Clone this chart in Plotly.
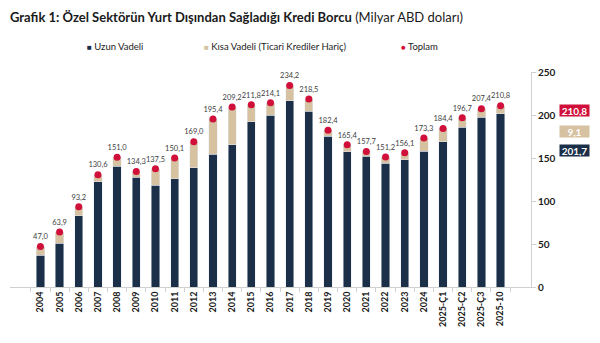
import plotly.graph_objects as go

# Kategoriler ve seriler (milyar ABD doları)
periods = ["2004", "2005", "2006", "2007", "2008", "2009", "2010", "2011", "2012",
           "2013", "2014", "2015", "2016", "2017", "2018", "2019", "2020", "2021",
           "2022", "2023", "2024", "2025-Ç1", "2025-Ç2", "2025-Ç3", "2025-10"]
total = [47.0, 63.9, 93.2, 130.6, 151.0, 134.3, 137.5, 150.1, 169.0, 195.4, 209.2,
         211.8, 214.1, 234.2, 218.5, 182.4, 165.4, 157.7, 151.2, 156.1, 173.3, 184.4,
         196.7, 207.4, 210.8]
long_term = [36.7, 51.1, 82.9, 122.4, 140.7, 127.9, 118.6, 125.9, 138.7, 154.6, 165.5,
             191.9, 200.0, 216.3, 204.2, 175.1, 157.3, 152.3, 143.7, 147.7, 158.1, 169.0,
             186.0, 197.2, 201.7]
short_term = [round(t - l, 1) for t, l in zip(total, long_term)]
y_ticks = [0, 50, 100, 150, 200, 250]
series_names = ["Uzun Vadeli", "Kısa Vadeli (Ticari Krediler Hariç)", "Toplam"]

NAVY = "#1b2f48"
TAN = "#d6c1a1"
RED = "#d0103a"
FONT = "Lato"

# Çizim alanı (piksel)
PL, PR, PT, PB = 10, 531.5, 72.3, 287.3
W, H = 600, 343


def tr(v):
    return f"{v:.1f}".replace(".", ",")


fig = go.Figure()
fig.add_trace(go.Bar(x=periods, y=long_term, name=series_names[0], marker_color=NAVY))
fig.add_trace(go.Bar(x=periods, y=short_term, name=series_names[1], marker_color=TAN))
fig.add_trace(go.Scatter(x=periods, y=total, name=series_names[2], mode="markers+text",
                         marker=dict(color=RED, size=7),
                         text=[tr(v) for v in total], textposition="top center",
                         textfont=dict(size=7.5, color="#404040", family=FONT),
                         cliponaxis=False))

# Son dönem değer kutuları
for val, bg, yc in [(total[-1], RED, 111), (short_term[-1], TAN, 131.5),
                    (long_term[-1], NAVY, 150.6)]:
    fig.add_annotation(xref="paper", yref="paper",
                       x=(575 - PL) / (PR - PL), y=(PB - yc) / (PB - PT),
                       xanchor="center", yanchor="middle",
                       text=f"<b>{tr(val)}</b>", showarrow=False,
                       font=dict(color="white", size=10, family=FONT),
                       bgcolor=bg, width=29, height=11, borderpad=0)

# Gösterge
for name, sym, col, xs in [(series_names[0], "■", NAVY, 85),
                           (series_names[1], "■", TAN, 202),
                           (series_names[2], "●", RED, 399)]:
    fig.add_annotation(xref="paper", yref="paper",
                       x=(xs - PL) / (PR - PL), y=(PB - 47) / (PB - PT),
                       xanchor="left", yanchor="middle", showarrow=False,
                       text=f"<span style='color:{col};font-size:8px'>{sym}</span> {name}",
                       font=dict(size=9.5, family=FONT, color="#222"))

fig.update_layout(
    barmode="stack",
    bargap=0.57,
    showlegend=False,
    width=W, height=H,
    margin=dict(l=PL, r=W - PR, t=PT, b=H - PB),
    plot_bgcolor="white", paper_bgcolor="white",
    font=dict(family=FONT),
    title=dict(text="<b>Grafik 1: Özel Sektörün Yurt Dışından Sağladığı Kredi Borcu</b> (Milyar ABD doları)",
               x=10 / W, xanchor="left", xref="container",
               y=1 - 17 / H, yanchor="middle", yref="container",
               font=dict(size=13, family=FONT, color="#1a1a1a")),
    xaxis=dict(type="category", tickangle=-90, tickson="boundaries",
               ticks="outside", ticklen=4, tickcolor="#d0d0d0",
               showline=True, linecolor="#d0d0d0", linewidth=1,
               tickfont=dict(size=9, family=FONT, color="#1a1a1a", weight="bold"),
               showgrid=False),
    yaxis=dict(side="right", range=[0, 250], tickvals=y_ticks,
               ticks="outside", ticklen=4, tickcolor="#d0d0d0",
               showline=True, linecolor="#d0d0d0", linewidth=1,
               showgrid=False, zeroline=False,
               tickfont=dict(size=10, family=FONT, color="#1a1a1a", weight="bold")),
)

fig.write_html("out.html")
